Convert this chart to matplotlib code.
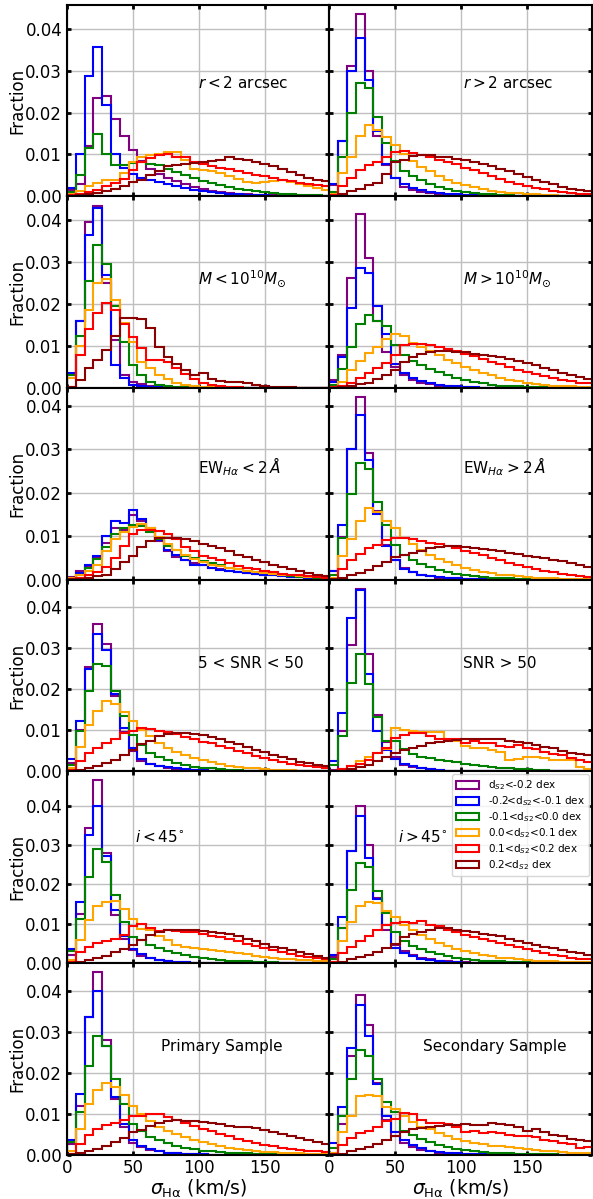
# velocity dispersion histograms per sub-sample, split by d_S2
import matplotlib.pyplot as plt
import numpy as np

edges = np.linspace(0, 200, 31)  # 30 bins, ~6.7 km/s wide
colors = ['purple', 'blue', 'green', 'orange', 'red', 'darkred']
labels = [r'd$_{S2}$<-0.2 dex', r'-0.2<d$_{S2}$<-0.1 dex', r'-0.1<d$_{S2}$<0.0 dex',
          r'0.0<d$_{S2}$<0.1 dex', r'0.1<d$_{S2}$<0.2 dex', r'0.2<d$_{S2}$ dex']

left_titles = [r'$r<2$ arcsec', r'$M<10^{10}M_{\odot}$', r'EW$_{H\alpha}<2\,\AA$',
               '5 < SNR < 50', r'$i<45^{\circ}$', 'Primary Sample']
right_titles = [r'$r>2$ arcsec', r'$M>10^{10}M_{\odot}$', r'EW$_{H\alpha}>2\,\AA$',
                'SNR > 50', r'$i>45^{\circ}$', 'Secondary Sample']

# fraction per bin (x 1e-3), one row per d_S2 class (same order as labels)
r_in = [
    [1.5, 3, 12, 23.5, 24, 18.5, 14.5, 11, 8.5, 6.5, 5.3, 4.5, 3.7, 3, 2.2, 1.7, 1.2, 1, 0.8, 0.6, 0.5, 0.4, 0.3, 0.3, 0.2, 0.2, 0.1, 0.1, 0.1, 0.1],
    [2, 10, 28.8, 35.7, 21.7, 10, 6.7, 5.3, 4.5, 4, 3.5, 3, 2.5, 2, 1.5, 1.2, 1, 0.8, 0.6, 0.5, 0.4, 0.3, 0.3, 0.2, 0.2, 0.1, 0.1, 0.1, 0.1, 0.1],
    [1, 5.2, 11.5, 14.8, 10, 7.5, 7.5, 8, 8.2, 7.8, 7.5, 6.6, 5.8, 5, 4.3, 3.7, 3.2, 2.7, 2.3, 1.8, 1.5, 1.2, 1, 0.8, 0.6, 0.5, 0.4, 0.3, 0.3, 0.2],
    [0.5, 1.2, 2.5, 3.3, 4, 4, 5.7, 8.3, 9.5, 9.8, 10.2, 10.5, 10.5, 8.8, 6.6, 6.3, 6, 5.5, 4.8, 4.2, 3.5, 3.3, 3.5, 3.7, 3.8, 3.5, 3, 2.5, 2, 1.5],
    [0.3, 0.6, 1, 1.5, 2.5, 3.3, 4.2, 6.3, 8.3, 9.2, 9.8, 10.2, 9.5, 9.3, 8.3, 7.8, 7.2, 6.8, 6.5, 6, 5.7, 5.2, 4.8, 4.5, 4, 3.7, 3.3, 3, 2.7, 2.5],
    [0.2, 0.3, 0.5, 0.8, 1.2, 1.8, 2.5, 3.5, 4, 5, 6, 7.2, 7.5, 7.8, 8, 8.2, 8.5, 8.8, 9.3, 9, 8.7, 8.3, 7.8, 7.2, 6.5, 5.8, 5.2, 4.5, 4, 3.6],
]
r_out = [
    [2.8, 13.2, 31, 43.5, 30, 14.5, 7.5, 4.5, 2.2, 1.5, 1, 0.7, 0.5, 0.4, 0.3, 0.2, 0.2, 0.1, 0.1, 0.1, 0.1, 0.1, 0, 0, 0, 0, 0, 0, 0, 0],
    [3, 13.2, 30, 37.8, 27.7, 15.5, 7.8, 4.5, 3, 2, 1.5, 1.1, 0.8, 0.6, 0.5, 0.4, 0.3, 0.2, 0.2, 0.1, 0.1, 0.1, 0.1, 0, 0, 0, 0, 0, 0, 0],
    [1, 9.5, 20, 27, 25.8, 19, 12.8, 8.5, 6, 4.8, 3.8, 3, 2.2, 1.7, 1.3, 1, 0.8, 0.6, 0.5, 0.4, 0.3, 0.2, 0.2, 0.1, 0.1, 0.1, 0.1, 0, 0, 0],
    [0.5, 5.5, 9.5, 14.5, 17, 15.8, 14.2, 12.2, 10.2, 8.5, 7, 6, 4.8, 4, 3.3, 2.7, 2.2, 1.8, 1.4, 1.1, 0.9, 0.7, 0.6, 0.5, 0.4, 0.3, 0.2, 0.2, 0.1, 0.1],
    [0.3, 2.5, 4.5, 6.2, 7.5, 8.2, 9.4, 10.7, 10.8, 10.3, 9.8, 9.3, 8.8, 8.2, 7.7, 6.8, 6.2, 5.5, 4.8, 4.2, 3.5, 3, 2.5, 2, 1.7, 1.3, 1, 0.8, 0.6, 0.5],
    [0.1, 0.5, 1.2, 1.8, 2.8, 3.2, 5.4, 8.2, 8.8, 9.6, 9.8, 9.8, 9.5, 9.3, 9, 8.8, 8.3, 7.8, 7.3, 6.5, 6, 5.3, 4.7, 4, 3.5, 3, 2.2, 1.8, 1.5, 1.2],
]
m_lo = [
    [3, 16, 39.5, 43.5, 25, 11.5, 3, 1.5, 1, 0.5, 0.3, 0.2, 0.1, 0.1, 0, 0, 0, 0, 0, 0, 0, 0, 0, 0, 0, 0, 0, 0, 0, 0],
    [3.5, 16, 36.5, 43, 27, 5.5, 2.5, 0.7, 0.5, 0.3, 0.2, 0.1, 0.1, 0, 0, 0, 0, 0, 0, 0, 0, 0, 0, 0, 0, 0, 0, 0, 0, 0],
    [3, 12.3, 25.5, 34, 29.5, 19.5, 11, 5.5, 3, 1.5, 0.8, 0.5, 0.3, 0.2, 0.1, 0.1, 0, 0, 0, 0, 0, 0, 0, 0, 0, 0, 0, 0, 0, 0],
    [2.5, 10, 18.5, 25, 26, 21, 15.5, 11, 6.3, 4.8, 3.2, 2.2, 1.2, 0.8, 0.4, 0.3, 0.2, 0.1, 0, 0, 0, 0, 0, 0, 0, 0, 0, 0, 0, 0],
    [0.3, 8, 14, 17.8, 20.2, 18.5, 15.2, 12.2, 9.5, 6.8, 6.6, 6.3, 4.8, 3.3, 2.2, 1.2, 0.8, 0.5, 0.3, 0.2, 0.1, 0.1, 0, 0, 0, 0, 0, 0, 0, 0],
    [0.3, 2, 4.8, 6.8, 9, 12.5, 16.8, 16.8, 16.5, 14.3, 9.8, 7.3, 5.8, 4.3, 3, 3.7, 2.2, 1.8, 1.5, 1.5, 1.2, 0.8, 0.5, 0.3, 0.2, 0.2, 0.1, 0.1, 0.1, 0.1],
]
m_hi = [
    [2, 8, 26.2, 41.5, 30.9, 16, 8.6, 5, 3, 2, 1.3, 0.9, 0.6, 0.4, 0.3, 0.2, 0.1, 0.1, 0.1, 0.1, 0, 0, 0, 0, 0, 0, 0, 0, 0, 0],
    [1.5, 7.5, 19, 28.5, 27.5, 19.5, 12.8, 5.8, 3.7, 2.5, 1.8, 1.2, 0.8, 0.5, 0.4, 0.3, 0.2, 0.1, 0.1, 0.1, 0, 0, 0, 0, 0, 0, 0, 0, 0, 0],
    [0.8, 4.5, 9.8, 15.3, 17.5, 16, 14.8, 10.3, 7.8, 6.5, 5.5, 4.5, 3.8, 3.2, 2.5, 2, 1.5, 1.1, 0.8, 0.6, 0.5, 0.4, 0.3, 0.2, 0.2, 0.1, 0.1, 0.1, 0.1, 0],
    [0.3, 1.5, 4.3, 6.5, 8.3, 9.8, 11.7, 12.8, 12.5, 10.8, 9.8, 8.8, 7.8, 6.8, 6, 5, 4.3, 3.6, 3, 2.5, 2, 1.6, 1.3, 1, 0.8, 0.6, 0.5, 0.4, 0.3, 0.2],
    [0.2, 0.4, 1.2, 2.5, 3.5, 4.8, 6, 7.8, 10.2, 10.5, 10.5, 10.2, 9.8, 9.3, 8.8, 8.2, 7.6, 7, 6.3, 5.7, 5, 4.4, 3.8, 3.3, 2.8, 2.4, 2, 1.6, 1.3, 1.1],
    [0.1, 0.2, 0.4, 1, 1.3, 2.2, 3, 4.3, 6.3, 7.5, 8.2, 8.6, 8.8, 8.8, 8.7, 8.5, 8.2, 7.9, 7.7, 7.3, 6.9, 6.4, 5.9, 5.4, 4.9, 4.3, 3.7, 3.1, 2.6, 2.2],
]
ew_lo = [
    [0.7, 2, 3, 5, 8.5, 12, 11.5, 14.8, 13.5, 12, 9, 6.5, 5.2, 4.5, 3.8, 3.3, 2.8, 2.4, 2, 1.8, 1.6, 1.4, 1.2, 1, 0.9, 0.7, 0.6, 0.5, 0.4, 0.3],
    [0.5, 1.5, 3.5, 5.5, 10, 13.5, 13, 16, 14, 11.5, 9.2, 6.8, 5.8, 4.5, 3.5, 3.3, 2.8, 2.2, 2, 1.7, 1.5, 1.3, 1.2, 1, 0.9, 0.7, 0.6, 0.5, 0.4, 0.3],
    [0.5, 1.2, 2.8, 4.8, 7.5, 10.5, 12, 12.5, 12.3, 11, 9.3, 7.8, 6.8, 5.5, 5, 4.3, 3.8, 3.3, 2.8, 2.4, 2, 1.8, 1.5, 1.3, 1.1, 0.9, 0.7, 0.6, 0.5, 0.4],
    [0.3, 1, 2, 3.5, 6.5, 9.3, 11, 12.2, 12.8, 11.8, 9.8, 8.3, 6.8, 5.8, 4.8, 4, 3.5, 3.1, 2.7, 2.4, 2, 1.8, 1.6, 1.4, 1.2, 1, 0.8, 0.7, 0.6, 0.5],
    [0.2, 0.5, 1.2, 1.8, 3, 5, 7.8, 10.5, 11.5, 11.5, 11.2, 10.5, 9.3, 7.5, 6.5, 5.5, 5, 4.5, 3.8, 3.2, 2.7, 2.4, 2, 1.7, 1.4, 1.2, 1, 0.8, 0.6, 0.5],
    [0.1, 0.2, 0.5, 0.8, 1.2, 2.5, 4, 5.5, 7.5, 8.8, 9.5, 9.7, 9.7, 9.3, 8.8, 8.3, 7.7, 7.2, 6.5, 5.8, 5.2, 4.6, 4, 3.5, 3, 2.5, 2, 1.6, 1.2, 0.9],
]
ew_hi = [
    [2, 9.8, 30, 42, 29.2, 15.7, 8, 4.5, 2.8, 1.8, 1.2, 0.8, 0.5, 0.4, 0.3, 0.2, 0.1, 0.1, 0.1, 0, 0, 0, 0, 0, 0, 0, 0, 0, 0, 0],
    [2, 12.5, 30, 38, 27.5, 15.2, 7.8, 4.5, 2.5, 1.7, 1.2, 0.8, 0.6, 0.4, 0.3, 0.2, 0.1, 0.1, 0.1, 0, 0, 0, 0, 0, 0, 0, 0, 0, 0, 0],
    [1, 9.5, 19.7, 26.8, 25.5, 17.8, 12.5, 8.1, 5.8, 4.5, 3.7, 3, 2.3, 1.8, 1.3, 1, 0.8, 0.6, 0.5, 0.4, 0.3, 0.2, 0.2, 0.1, 0.1, 0.1, 0, 0, 0, 0],
    [0.5, 5.5, 9.3, 13.5, 16.5, 15.5, 13.5, 11.8, 9.5, 8.2, 6.8, 5.8, 4.8, 4, 3.3, 2.7, 2.2, 1.8, 1.5, 1.2, 1, 0.8, 0.6, 0.5, 0.4, 0.3, 0.2, 0.2, 0.1, 0.1],
    [0.2, 2.5, 4.5, 6, 7.2, 8, 9.2, 9.5, 9.5, 9.3, 9, 8.5, 8.2, 7.7, 7.3, 6.7, 6.2, 5.6, 5, 4.5, 3.9, 3.4, 3, 2.5, 2, 1.7, 1.4, 1.1, 0.9, 0.7],
    [0.1, 0.5, 1, 1.5, 2.3, 3.2, 4, 5.2, 5.8, 6.2, 6.7, 7.2, 7.5, 7.7, 7.7, 7.6, 7.3, 7.1, 6.8, 6.5, 6.2, 6, 5.5, 5.3, 5, 4.6, 4.2, 3.8, 3.4, 3],
]
snr_lo = [
    [2, 10, 25.5, 36, 31, 18.3, 9.5, 5, 2.5, 1.7, 1.2, 0.8, 0.5, 0.4, 0.3, 0.2, 0.1, 0.1, 0.1, 0, 0, 0, 0, 0, 0, 0, 0, 0, 0, 0],
    [3, 12.2, 25, 33.5, 29.5, 18.8, 10.5, 5.8, 3, 1.8, 1.3, 1, 0.7, 0.5, 0.4, 0.3, 0.2, 0.1, 0.1, 0, 0, 0, 0, 0, 0, 0, 0, 0, 0, 0],
    [1.5, 9.8, 19.5, 26.2, 25.8, 19.5, 13.5, 8.8, 6.5, 4.5, 3.5, 2.7, 2, 1.5, 1.1, 0.9, 0.7, 0.5, 0.4, 0.3, 0.2, 0.2, 0.1, 0.1, 0, 0, 0, 0, 0, 0],
    [0.7, 6, 11.2, 14.8, 17.2, 16.5, 14.5, 12.2, 10.2, 8.5, 7, 5.8, 4.8, 4, 3.3, 2.7, 2.2, 1.8, 1.4, 1.1, 0.9, 0.7, 0.5, 0.4, 0.3, 0.3, 0.2, 0.2, 0.1, 0.1],
    [0.3, 2.5, 4.5, 5.8, 7, 7.8, 9.3, 9.8, 10.5, 10.3, 9.8, 9.5, 9, 8.3, 7.8, 7.2, 6.8, 6.3, 5.7, 5, 4.4, 3.8, 3.2, 2.7, 2.2, 1.8, 1.5, 1.2, 1, 0.8],
    [0.1, 0.3, 0.8, 1.2, 2, 2.8, 4, 5.3, 6.7, 7.5, 8.5, 9, 9.3, 9.3, 9.2, 8.8, 8.3, 7.8, 7.2, 6.6, 6, 5.3, 4.7, 4, 3.4, 2.9, 2.4, 2, 1.6, 1.3],
]
snr_hi = [
    [0.3, 9.8, 30.8, 44.5, 28.5, 13.8, 7.2, 3.5, 1.5, 1, 0.8, 0.5, 0.3, 0.2, 0.1, 0, 0, 0, 0, 0, 0, 0, 0, 0, 0, 0, 0, 0, 0, 0],
    [2.5, 14.3, 37.5, 44.2, 23.8, 9.8, 5.3, 3, 1.8, 1.2, 0.8, 0.5, 0.3, 0.2, 0.1, 0, 0, 0, 0, 0, 0, 0, 0, 0, 0, 0, 0, 0, 0, 0],
    [1.5, 8.5, 21.5, 28.5, 21.3, 13.3, 7.5, 7.5, 5.5, 4.2, 3.5, 3.2, 2.8, 2.5, 2.2, 1.8, 1.5, 1.3, 1.1, 0.9, 0.7, 0.6, 0.5, 0.4, 0.3, 0.2, 0.2, 0.1, 0.1, 0.1],
    [0.1, 0.5, 1.2, 2.5, 3.5, 4.5, 5.5, 10.5, 10, 9.8, 9.6, 9.6, 9.5, 7.5, 7.5, 6.3, 5.7, 5.7, 5.2, 4.8, 2.8, 3, 3.5, 3.5, 3.3, 2.8, 2.8, 2.7, 1, 0.5],
    [0.1, 0.5, 1.2, 1.8, 2.8, 4.5, 5.7, 8.2, 8.8, 9.3, 9.3, 8.5, 7.8, 7.8, 7.8, 7, 7.5, 6.8, 6.8, 6.2, 6, 6.5, 5.8, 5.5, 4.8, 4.2, 4, 3.3, 2.8, 2.2],
    [0.1, 0.2, 0.6, 1, 1.5, 2.5, 3.5, 4.5, 5.2, 5.8, 6.3, 6.8, 7.2, 7.5, 7.7, 7.8, 7.8, 8, 8, 7.8, 7.5, 7.2, 7, 6.5, 6, 5.6, 5, 4.5, 4.2, 4],
]
inc_lo = [
    [2, 12.5, 34.5, 46.5, 28, 12.3, 6, 3.3, 1.8, 1.2, 0.8, 0.5, 0.3, 0.2, 0.1, 0.1, 0, 0, 0, 0, 0, 0, 0, 0, 0, 0, 0, 0, 0, 0],
    [3.5, 15.5, 32.5, 40, 27.2, 13.5, 7, 3.5, 2.2, 1.3, 0.8, 0.5, 0.3, 0.2, 0.1, 0.1, 0, 0, 0, 0, 0, 0, 0, 0, 0, 0, 0, 0, 0, 0],
    [3, 11.3, 22, 29, 25.8, 17.3, 10.5, 6.7, 5.8, 4.5, 3.7, 3, 2.5, 2, 1.6, 1.3, 1, 0.8, 0.6, 0.5, 0.4, 0.3, 0.2, 0.2, 0.1, 0.1, 0.1, 0, 0, 0],
    [0.8, 5.8, 11, 14.5, 15.5, 15.8, 13.8, 11.3, 8.7, 8.5, 6.8, 5.8, 4.5, 4, 3.7, 3.5, 3.3, 3, 2.8, 2.5, 2.2, 1.9, 1.5, 1.3, 1, 0.9, 0.8, 0.7, 0.5, 0.4],
    [0.3, 2.8, 4, 5, 5.7, 6, 7.2, 9.5, 10, 8.8, 8.2, 8.3, 8.2, 8, 7.8, 7.5, 7, 6.5, 6, 5.5, 4.8, 4.3, 3.7, 3.2, 2.7, 2.3, 1.9, 1.5, 1.2, 1],
    [0.1, 0.3, 0.8, 1.3, 1.8, 2.8, 3.5, 4.5, 5.8, 7.2, 7.8, 8.3, 8.5, 8.5, 8.5, 8.2, 8, 7.7, 7.3, 6.8, 6.2, 5.5, 4.8, 4.2, 3.7, 3.2, 2.7, 2.2, 1.8, 1.4],
]
inc_hi = [
    [1.5, 9, 28.5, 40, 30, 16.5, 8.5, 4.5, 3, 2, 1.3, 0.9, 0.6, 0.4, 0.3, 0.2, 0.1, 0.1, 0, 0, 0, 0, 0, 0, 0, 0, 0, 0, 0, 0],
    [2, 11.8, 28.5, 37.5, 26.8, 16.2, 9.8, 3.8, 2.5, 1.7, 1.1, 0.8, 0.5, 0.3, 0.2, 0.1, 0.1, 0, 0, 0, 0, 0, 0, 0, 0, 0, 0, 0, 0, 0],
    [1, 8.8, 18.5, 25.5, 24.5, 18.4, 12.8, 8, 5.5, 4.3, 3.5, 2.7, 2.2, 1.7, 1.3, 1, 0.8, 0.6, 0.5, 0.4, 0.3, 0.2, 0.2, 0.1, 0.1, 0.1, 0, 0, 0, 0],
    [0.3, 5.5, 10.5, 14.5, 15.5, 15.2, 13.3, 11.8, 9.8, 8.3, 7.2, 6, 5, 4.3, 3.5, 3, 2.5, 2.1, 1.7, 1.4, 1.2, 1, 0.8, 0.6, 0.5, 0.4, 0.3, 0.3, 0.2, 0.2],
    [0.2, 2.5, 4, 5.7, 7, 8.5, 9.8, 10.2, 10.5, 10.3, 10.8, 9.8, 9.3, 8.5, 7.8, 7.2, 6.6, 6, 5.5, 5, 4.5, 4, 3.5, 3, 2.5, 2.1, 1.7, 1.4, 1.1, 0.9],
    [0.1, 0.3, 1, 1.5, 2, 2.8, 3.8, 4.8, 6.5, 7.5, 8, 8.5, 8.8, 8.8, 8.5, 8.2, 7.8, 7.5, 7.2, 6.8, 6.2, 5.7, 5.2, 4.7, 4.2, 3.7, 3.3, 2.9, 2.5, 2.1],
]
primary = [
    [2.5, 11.8, 33.5, 44.5, 28, 13.5, 6.8, 2.8, 1.8, 1.2, 0.8, 0.5, 0.3, 0.2, 0.1, 0.1, 0, 0, 0, 0, 0, 0, 0, 0, 0, 0, 0, 0, 0, 0],
    [3.5, 14.8, 33.5, 40, 26.5, 14, 7.5, 3.5, 2, 1.3, 0.8, 0.5, 0.3, 0.2, 0.1, 0.1, 0, 0, 0, 0, 0, 0, 0, 0, 0, 0, 0, 0, 0, 0],
    [3, 10.3, 21.5, 29, 26.5, 18.5, 12.3, 7.5, 5.8, 4.2, 3.5, 2.8, 2.2, 1.7, 1.3, 1, 0.8, 0.6, 0.5, 0.4, 0.3, 0.2, 0.2, 0.1, 0.1, 0.1, 0, 0, 0, 0],
    [0.8, 6.3, 12.3, 15.8, 17.5, 16.5, 14.5, 11.8, 9.8, 8.3, 6.8, 5.8, 5, 4.2, 3.5, 3, 2.5, 2.1, 1.7, 1.4, 1.2, 0.9, 0.7, 0.6, 0.5, 0.4, 0.3, 0.2, 0.2, 0.1],
    [0.2, 2.7, 4.8, 6.2, 7.2, 7.8, 8.5, 9.5, 9.5, 9.8, 9.8, 9.2, 8.5, 7.7, 7, 6.3, 5.7, 5, 4.5, 3.9, 3.3, 2.8, 2.4, 2, 1.7, 1.4, 1.2, 1, 0.8, 0.6],
    [0.1, 0.3, 0.8, 1.3, 2, 3, 4, 5.5, 6, 7, 7.8, 8.3, 8.5, 8.3, 8.2, 8, 7.8, 7.5, 7, 6.8, 6.8, 6.5, 6, 5.5, 5, 4.5, 4, 3.5, 3, 2.5],
]
secondary = [
    [0.3, 7.5, 24, 39, 31.5, 17.5, 8.5, 4.5, 2.8, 1.8, 1.2, 0.8, 0.5, 0.3, 0.2, 0.1, 0.1, 0, 0, 0, 0, 0, 0, 0, 0, 0, 0, 0, 0, 0],
    [2.8, 11.5, 26, 36.5, 29, 17.2, 9.5, 5.5, 3.5, 2.3, 1.5, 1, 0.7, 0.5, 0.3, 0.2, 0.1, 0.1, 0, 0, 0, 0, 0, 0, 0, 0, 0, 0, 0, 0],
    [1.5, 9.5, 18.5, 25.5, 24, 18.5, 12.8, 10.5, 5.8, 4.7, 3.7, 3, 2.3, 1.8, 1.4, 1.1, 0.9, 0.7, 0.5, 0.4, 0.3, 0.2, 0.2, 0.1, 0.1, 0.1, 0, 0, 0, 0],
    [0.5, 5.5, 9.5, 14.2, 14.5, 14.2, 11.5, 11.2, 9.5, 8, 6.8, 6.2, 5.2, 4.5, 3.8, 3.3, 2.8, 2.5, 2.2, 2, 1.8, 1.5, 1.3, 1.2, 1, 0.8, 0.6, 0.5, 0.4, 0.3],
    [0.2, 2.3, 4, 5.3, 5.8, 6.8, 8.2, 8.8, 10.2, 9.8, 8.5, 7.8, 7.8, 7.5, 6.8, 5.5, 5.8, 5.2, 5.5, 5.3, 4.8, 4.5, 4.5, 4.2, 3.5, 3.3, 2.8, 2.5, 1.5, 1.8],
    [0.1, 0.2, 0.8, 1.3, 1.8, 2.5, 3.5, 4.5, 5.5, 6.2, 6.5, 6.8, 7, 7.2, 7.3, 7.5, 7.2, 7.3, 7.7, 7.5, 7.3, 6.8, 5.8, 6.3, 5.5, 4.8, 4.5, 3.8, 3.6, 3.3],
]

panels = [[r_in, r_out], [m_lo, m_hi], [ew_lo, ew_hi],
          [snr_lo, snr_hi], [inc_lo, inc_hi], [primary, secondary]]
# where the panel label sits (axes fraction)
text_pos = [[(0.50, 0.59), (0.51, 0.59)], [(0.50, 0.57), (0.51, 0.57)],
            [(0.50, 0.59), (0.51, 0.59)], [(0.50, 0.565), (0.51, 0.565)],
            [(0.26, 0.655), (0.26, 0.655)], [(0.36, 0.565), (0.356, 0.565)]]

fig, axes = plt.subplots(6, 2, figsize=(5.93, 11.99), dpi=100, sharex=True, sharey='row')
plt.subplots_adjust(left=0.113, right=0.998, top=0.996, bottom=0.037, hspace=0, wspace=0)

for i in range(6):
    for j in range(2):
        ax = axes[i, j]
        data = panels[i][j]
        for k in range(6):
            w = np.array(data[k]) / 1000.
            ax.hist(edges[:-1], bins=edges, weights=w, histtype='step',
                    color=colors[k], lw=1.5, label=labels[k])
        ax.set_xlim(0, 199)
        ax.set_xticks([0, 50, 100, 150])
        ax.grid(True, color='0.75', lw=1)
        ax.set_axisbelow(True)
        ax.tick_params(direction='in', top=True, right=True, length=3, width=2, labelsize=12)
        for s in ax.spines.values():
            s.set_linewidth(1.5)
        title = left_titles[i] if j == 0 else right_titles[i]
        tx, ty = text_pos[i][j]
        ax.text(tx, ty, title, transform=ax.transAxes, fontsize=11, ha='left', va='center')
        if j == 0:
            ax.set_ylabel('Fraction', fontsize=12, labelpad=-1)
        if i == 5:
            ax.set_xlabel(r'$\sigma_{\rm H\alpha}$ (km/s)', fontsize=13.5, labelpad=0)

axes[4, 1].legend(loc='upper right', fontsize=7.5, labelspacing=0.2, borderpad=0.4,
                  handlelength=2.2, handletextpad=0.8, borderaxespad=0.3)

plt.savefig('out.png', dpi=100)
